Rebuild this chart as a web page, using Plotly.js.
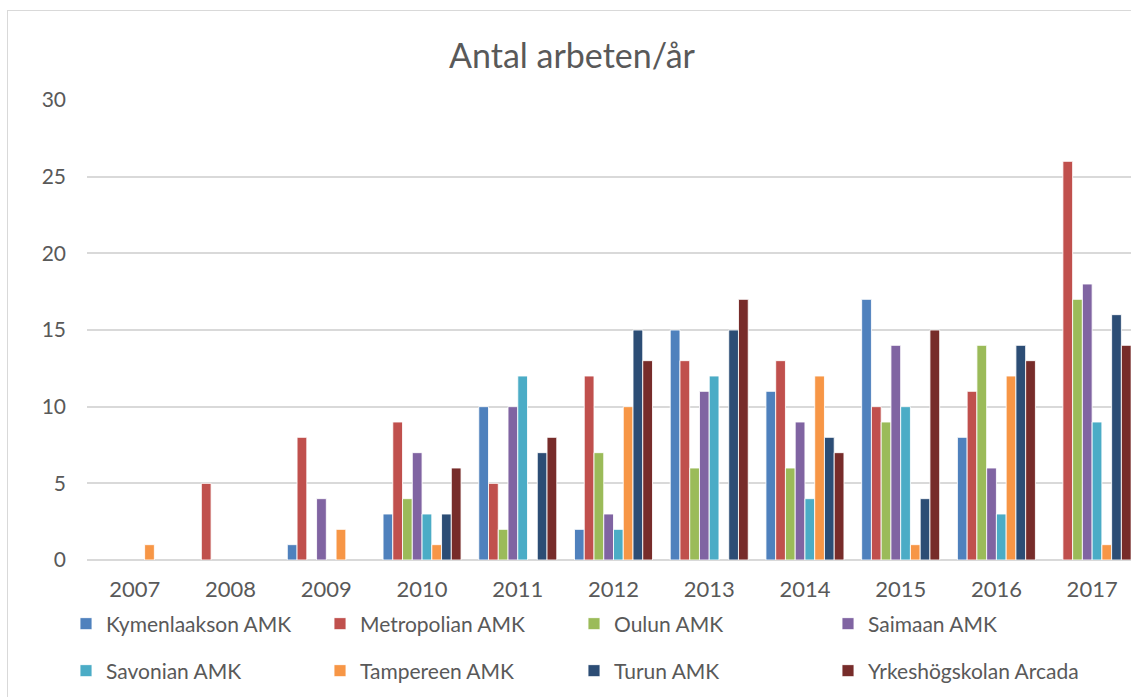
<!DOCTYPE html>
<html>
<head>
<meta charset="utf-8">
<script src="https://cdn.plot.ly/plotly-3.0.1.min.js"></script>
<style>
  html, body { margin: 0; padding: 0; overflow: hidden; background: #ffffff; width: 1131px; height: 697px; }
  #chart { position: absolute; left: 0; top: 0; width: 1145px; height: 697px; }
  #frame { position: absolute; left: 7px; top: 10px; width: 1300px; height: 900px; border: 1.5px solid #d9d9d9; pointer-events: none; }
</style>
</head>
<body>
<div id="chart"></div>
<div id="frame"></div>
<script>
const years = ["2007","2008","2009","2010","2011","2012","2013","2014","2015","2016","2017"];

// null = no value recorded for that year (no bar drawn)
const kymenlaakson = [null, null, 1, 3, 10, 2, 15, 11, 17, 8, null];
const metropolian  = [null, 5, 8, 9, 5, 12, 13, 13, 10, 11, 26];
const oulun        = [null, null, null, 4, 2, 7, 6, 6, 9, 14, 17];
const saimaan      = [null, null, 4, 7, 10, 3, 11, 9, 14, 6, 18];
const savonian     = [null, null, null, 3, 12, 2, 12, 4, 10, 3, 9];
const tampereen    = [1, null, 2, 1, null, 10, null, 12, 1, 12, 1];
const turun        = [null, null, null, 3, 7, 15, 15, 8, 4, 14, 16];
const arcada       = [null, null, null, 6, 8, 13, 17, 7, 15, 13, 14];

const seriesNames = ["Kymenlaakson AMK","Metropolian AMK","Oulun AMK","Saimaan AMK",
                     "Savonian AMK","Tampereen AMK","Turun AMK","Yrkeshögskolan Arcada"];
const seriesValues = [kymenlaakson, metropolian, oulun, saimaan, savonian, tampereen, turun, arcada];
const seriesColors = ["#4F81BD","#C0504D","#9BBB59","#8064A2","#4BACC6","#F79646","#2C4D75","#772C2A"];

const FONT = "Lato, 'Open Sans', sans-serif";
const GREY = "#595959";

const traces = seriesNames.map((name, i) => ({
  type: "bar",
  name: name,
  x: years,
  y: seriesValues[i],
  marker: { color: seriesColors[i], line: { color: "rgba(255,255,255,0.85)", width: 1 } },
  legend: i < 4 ? "legend" : "legend2",
  hoverinfo: "x+y+name"
}));

const W = 1145, H = 697;

const legendCommon = {
  orientation: "h",
  xref: "container", yref: "container",
  xanchor: "left", yanchor: "middle",
  entrywidth: 209, entrywidthmode: "pixels",
  font: { family: FONT, size: 21, color: GREY },
  bgcolor: "rgba(0,0,0,0)",
  itemclick: false, itemdoubleclick: false,
  traceorder: "normal"
};

const layout = {
  width: W, height: H,
  paper_bgcolor: "rgba(0,0,0,0)",
  plot_bgcolor: "rgba(0,0,0,0)",
  margin: { l: 87, r: 5, t: 100, b: 137, pad: 0 },
  title: {
    text: "Antal arbeten/år",
    font: { family: FONT, size: 34, color: GREY },
    xref: "container", yref: "container",
    x: 572 / W, xanchor: "center",
    y: 1 - 56 / H, yanchor: "middle"
  },
  barmode: "group",
  bargap: 0.185,
  bargroupgap: 0,
  showlegend: true,
  legend: Object.assign({}, legendCommon, { x: 66 / W, y: 1 - 624 / H }),
  legend2: Object.assign({}, legendCommon, { x: 66 / W, y: 1 - 671 / H }),
  xaxis: {
    type: "category",
    tickfont: { family: FONT, size: 22, color: GREY },
    ticks: "", showgrid: false, showline: false, zeroline: false,
    ticklabelstandoff: 14,
    fixedrange: true
  },
  yaxis: {
    range: [0, 30], dtick: 5, tick0: 0,
    tickfont: { family: FONT, size: 21, color: GREY },
    ticks: "", showline: false,
    gridcolor: "#d9d9d9", gridwidth: 2,
    zeroline: true, zerolinecolor: "#d9d9d9", zerolinewidth: 2,
    ticklabelstandoff: 20,
    fixedrange: true
  }
};

Plotly.newPlot("chart", traces, layout, { displayModeBar: false, staticPlot: true });
</script>
</body>
</html>
